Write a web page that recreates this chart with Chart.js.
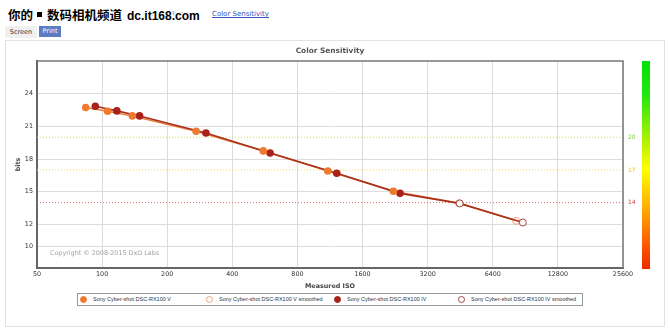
<!DOCTYPE html>
<html>
<head>
<meta charset="utf-8">
<script src="https://cdn.jsdelivr.net/npm/chart.js@4"></script>
<style>
  body { margin: 0; background: #fff; font-family: "DejaVu Sans", sans-serif; }
  #wrap { position: relative; width: 670px; height: 334px; overflow: hidden; }
  #frame { position: absolute; left: 5px; top: 40px; width: 658px; height: 285px; border: 1px solid #e2e2e2; }
  #crumb { position: absolute; left: 150px; top: 10px; font-size: 7px; color: #8a96b8; }
  #link { position: absolute; left: 212px; top: 10px; font-size: 7px; color: #3355bb; text-decoration: underline; }
  #mark { position: absolute; left: 8px; top: 7px; font-weight: bold; color: #000; white-space: nowrap; line-height: 16px;
          text-shadow: 1px 0 #fff, -1px 0 #fff, 0 1px #fff, 0 -1px #fff, 1px 1px #fff, -1px -1px #fff, 1px -1px #fff, -1px 1px #fff; }
  #mark .cn { font-family: "Noto Sans CJK SC", sans-serif; font-size: 12.5px; }
  #mark .dotc { display: inline-block; width: 5px; height: 5px; background: #000; border: 1px solid #fff; margin: 0 4px 2px 3px; vertical-align: middle; }
  #mark .en { font-family: "Liberation Sans", sans-serif; font-size: 12px; margin-left: 5px; }
  #screen { position: absolute; left: 5px; top: 26px; width: 32px; height: 12px; background: #f0f0f0; font-size: 6.5px; color: #333; line-height: 12px; text-align: center; }
  #print { position: absolute; left: 39px; top: 26px; width: 22px; height: 11px; background: #5b7bc2; font-size: 6.5px; color: #fff; line-height: 11px; text-align: center; }
  #bar { position: absolute; left: 642px; top: 61px; width: 8px; height: 208px;
         background: linear-gradient(to bottom, #00e000 0%, #20e810 16%, #a8f000 37%, #ffff00 52%, #ffb000 70%, #ff5a00 88%, #ee2a00 100%); }
  canvas { position: absolute; left: 0; top: 0; }
  #legend { position: absolute; left: 77px; top: 293px; width: 504px; height: 11px; border: 1px solid #999; background: #fff; }
  #legend .item { position: absolute; top: 0; height: 11px; line-height: 11px; font-size: 5.5px; color: #333; white-space: nowrap; font-family: "Liberation Sans", sans-serif; }
  #legend .dot { position: absolute; top: 2px; left: -4px; width: 7px; height: 7px; border-radius: 50%; box-sizing: border-box; }
  #legend .txt { position: absolute; left: 9px; top: 0; }
</style>
</head>
<body>
<div id="wrap">
  <div id="frame"></div>
  <div id="crumb">Tonal Range</div>
  <div id="link">Color Sensitivity</div>
  <div id="mark"><span class="cn">你的</span><span class="dotc"></span><span class="cn">数码相机频道</span><span class="en">dc.it168.com</span></div>
  <div id="screen">Screen</div>
  <div id="print">Print</div>
  <div id="bar"></div>
  <canvas id="chart" width="670" height="334"></canvas>
  <div id="legend"></div>
</div>
<script>
// measured ISO / bits
const isoV = [84, 106, 138, 272, 556, 1105, 2221];
const bitsV = [22.73, 22.39, 21.96, 20.55, 18.75, 16.91, 15.05];
const isoVSmooth = [84, 106, 138, 272, 556, 1105, 2221, 4470, 8200];
const bitsVSmooth = [22.73, 22.39, 21.96, 20.55, 18.75, 16.91, 15.05, 13.94, 12.33];

const isoIV = [93, 117, 149, 302, 598, 1216, 2385];
const bitsIV = [22.85, 22.42, 21.96, 20.39, 18.55, 16.69, 14.85];
const isoIVSmooth = [93, 117, 149, 302, 598, 1216, 2385, 4500, 8810];
const bitsIVSmooth = [22.85, 22.42, 21.96, 20.39, 18.55, 16.69, 14.85, 13.93, 12.18];

const xTicks = [50, 100, 200, 400, 800, 1600, 3200, 6400, 12800, 25600];
const yTicks = [10, 12, 15, 18, 21, 24];
const refLevels = [20, 17, 14];
const refColors = ['#c4e06a', '#eedc5a', '#dd7070'];
const refLabelColors = ['#7acc3a', '#e0c030', '#cc3a3a'];

const seriesNames = [
  'Sony Cyber-shot DSC-RX100 V',
  'Sony Cyber-shot DSC-RX100 V smoothed',
  'Sony Cyber-shot DSC-RX100 IV',
  'Sony Cyber-shot DSC-RX100 IV smoothed'
];

const orange = '#ee7a30';
const darkRed = '#a8221a';

const pts = (xs, ys) => xs.map((x, i) => ({ x: x, y: ys[i] }));
// hollow markers only on the extrapolated tail of a smoothed curve
const tailRadius = (n, measured) => Array.from({ length: n }, (_, i) => i < measured ? 0 : 3.5);

const datasets = [
  {
    label: seriesNames[0], data: pts(isoV, bitsV), showLine: false, order: 0,
    pointRadius: 3.8, pointBackgroundColor: orange, pointBorderColor: orange, pointBorderWidth: 0
  },
  {
    label: seriesNames[1], data: pts(isoVSmooth, bitsVSmooth), order: 2,
    borderColor: '#ec8040', borderWidth: 1.6, pointRadius: tailRadius(isoVSmooth.length, isoV.length),
    pointBackgroundColor: '#fff', pointBorderColor: '#eea27a', pointBorderWidth: 1
  },
  {
    label: seriesNames[2], data: pts(isoIV, bitsIV), showLine: false, order: 0,
    pointRadius: 3.8, pointBackgroundColor: darkRed, pointBorderColor: darkRed, pointBorderWidth: 0
  },
  {
    label: seriesNames[3], data: pts(isoIVSmooth, bitsIVSmooth), order: 1,
    borderColor: '#a8301e', borderWidth: 1.6, pointRadius: tailRadius(isoIVSmooth.length, isoIV.length),
    pointBackgroundColor: '#fff', pointBorderColor: '#a8443a', pointBorderWidth: 1
  }
];

refLevels.forEach((lvl, i) => {
  datasets.push({
    label: 'ref' + lvl,
    data: [{ x: xTicks[0], y: lvl }, { x: xTicks[xTicks.length - 1], y: lvl }],
    borderColor: refColors[i], borderWidth: 1, borderDash: [1, 2], pointRadius: 0, order: 5
  });
});

const framePlugin = {
  id: 'frame',
  afterDraw(chart) {
    const { ctx, chartArea: a, scales } = chart;
    ctx.save();
    ctx.strokeStyle = '#777';
    ctx.lineWidth = 1.5;
    ctx.beginPath();
    ctx.moveTo(a.left, a.top);
    ctx.lineTo(a.right, a.top);
    ctx.lineTo(a.right, a.bottom);
    ctx.stroke();

    ctx.font = '6px "DejaVu Sans"';
    ctx.textBaseline = 'middle';
    ctx.textAlign = 'left';
    refLevels.forEach((lvl, i) => {
      ctx.fillStyle = refLabelColors[i];
      ctx.fillText(String(lvl), a.right + 5, scales.y.getPixelForValue(lvl));
    });

    ctx.fillStyle = '#a0a0a0';
    ctx.font = '6.4px "DejaVu Sans"';
    ctx.fillText('Copyright © 2008-2015 DxO Labs', a.left + 13, a.bottom - 15);

    ctx.fillStyle = '#555';
    ctx.font = 'bold 7.4px "DejaVu Sans"';
    ctx.textAlign = 'center';
    ctx.fillText('Color Sensitivity', (a.left + a.right) / 2, 51.5);
    ctx.restore();
  }
};

new Chart(document.getElementById('chart'), {
  type: 'line',
  data: { datasets: datasets },
  plugins: [framePlugin],
  options: {
    responsive: false,
    animation: false,
    layout: { padding: { left: 0, top: 61, right: 47, bottom: 36 } },
    plugins: { legend: { display: false }, title: { display: false }, tooltip: { enabled: false } },
    scales: {
      x: {
        type: 'logarithmic', min: 50, max: 25600,
        afterBuildTicks: s => { s.ticks = xTicks.map(v => ({ value: v })); },
        afterFit: s => { s.height = 30; },
        ticks: { color: '#333', font: { size: 6.4, family: 'DejaVu Sans' }, padding: 3, maxRotation: 0, autoSkip: false, callback: v => String(v) },
        grid: { color: '#dcdcdc', drawTicks: false },
        border: { display: true, color: '#666', width: 2 },
        title: { display: true, text: 'Measured ISO', color: '#444', font: { size: 6.4, weight: 'bold', family: 'DejaVu Sans' }, padding: { top: 0, bottom: 8 } }
      },
      y: {
        type: 'linear', min: 8, max: 27,
        afterBuildTicks: s => { s.ticks = yTicks.map(v => ({ value: v })); },
        afterFit: s => { s.width = 37; },
        ticks: { color: '#333', font: { size: 6.4, family: 'DejaVu Sans' }, padding: 4 },
        grid: { color: '#dcdcdc', drawTicks: false },
        border: { display: true, color: '#666', width: 2 },
        title: { display: true, text: 'bits', color: '#444', font: { size: 6.4, weight: 'bold', family: 'DejaVu Sans' }, padding: { top: 15, bottom: 0 } }
      }
    }
  }
});

// legend laid out in four equal columns, like the original table
const legend = document.getElementById('legend');
const markerFill = [orange, '#fff', darkRed, '#fff'];
const markerBorder = [orange, '#eea27a', darkRed, '#a8443a'];
const legendX = [6, 132, 260, 384];
seriesNames.forEach((name, i) => {
  const item = document.createElement('div');
  item.className = 'item';
  item.style.left = legendX[i] + 'px';
  const dot = document.createElement('span');
  dot.className = 'dot';
  dot.style.background = markerFill[i];
  dot.style.border = '1px solid ' + markerBorder[i];
  const txt = document.createElement('span');
  txt.className = 'txt';
  txt.textContent = name;
  item.appendChild(dot);
  item.appendChild(txt);
  legend.appendChild(item);
});
</script>
</body>
</html>
